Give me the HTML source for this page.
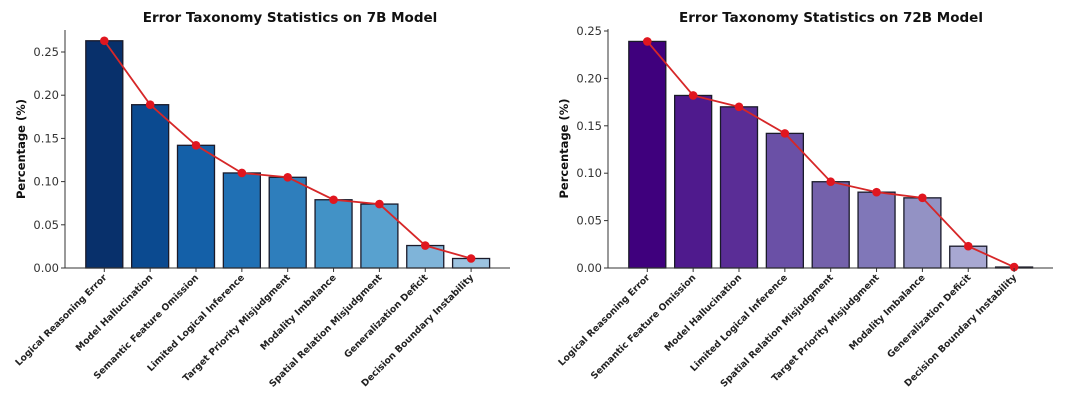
<!DOCTYPE html>
<html><head><meta charset="utf-8"><style>
body{margin:0;background:#fff;}
svg{display:block;font-family:"DejaVu Sans","Liberation Sans",sans-serif;}
</style></head><body>
<svg id="svg" width="1080" height="402" viewBox="0 0 1080 402"></svg>
<script>
const cats7 = ["Logical Reasoning Error","Model Hallucination","Semantic Feature Omission","Limited Logical Inference","Target Priority Misjudgment","Modality Imbalance","Spatial Relation Misjudgment","Generalization Deficit","Decision Boundary Instability"];
const vals7 = [0.263,0.189,0.142,0.110,0.105,0.079,0.074,0.026,0.011];
const cats72 = ["Logical Reasoning Error","Semantic Feature Omission","Model Hallucination","Limited Logical Inference","Spatial Relation Misjudgment","Target Priority Misjudgment","Modality Imbalance","Generalization Deficit","Decision Boundary Instability"];
const vals72 = [0.239,0.182,0.170,0.142,0.091,0.080,0.074,0.023,0.001];
const ticks7 = ["0.00","0.05","0.10","0.15","0.20","0.25"];
const ticks72 = ["0.00","0.05","0.10","0.15","0.20","0.25"];
const colors7 = ["#08306b","#0b4a90","#1460a8","#2070b4","#2e7ebc","#4292c6","#58a1cf","#7fb4d9","#9cc3e0"];
const colors72 = ["#3f007d","#4f1a8d","#5a2d96","#6a50a6","#7461ab","#8077b8","#9392c4","#a8a8d2","#bcbddc"];

const NS="http://www.w3.org/2000/svg";
const svg=document.getElementById('svg');
function mk(tag,attrs,parent){const e=document.createElementNS(NS,tag);for(const k in attrs)e.setAttribute(k,attrs[k]);(parent||svg).appendChild(e);return e;}

function chart(cfg){
  const g=mk('g',{});
  
  
  const y=v=>cfg.y0-(v/0.05)*cfg.per05;
  const x=i=>cfg.c0+i*cfg.step;
  const t=mk('text',{x:cfg.tx,y:22,'text-anchor':'middle','font-size':13.5,'font-weight':'bold',fill:'#111'},g);
  t.textContent=cfg.title;
  
  
  const yl=mk('text',{x:0,y:0,transform:`translate(${cfg.ax-40},${(cfg.y0+cfg.top)/2}) rotate(-90)`,'text-anchor':'middle','font-size':11.5,'font-weight':'bold',fill:'#111'},g);
  yl.textContent="Percentage (%)";
  
  
  cfg.ticks.forEach(s=>{
    const v=parseFloat(s),yy=y(v);
    mk('line',{x1:cfg.ax-4,x2:cfg.ax,y1:yy,y2:yy,stroke:'#333','stroke-width':1},g);
    const tt=mk('text',{x:cfg.ax-6,y:yy+4,'text-anchor':'end','font-size':11.5,fill:'#333'},g);
    tt.textContent=s;
    
    
  });
  cfg.vals.forEach((v,i)=>{
    const r=mk('rect',{x:x(i)-18.5,y:y(v),width:37,height:cfg.y0-y(v),fill:cfg.colors[i],stroke:'#1a1a2a','stroke-width':1.3},g);
    
    
  });
  mk('line',{x1:cfg.ax,x2:cfg.ax,y1:cfg.top,y2:cfg.y0,stroke:'#333','stroke-width':1},g);
  mk('line',{x1:cfg.ax,x2:cfg.axEnd,y1:cfg.y0,y2:cfg.y0,stroke:'#333','stroke-width':1},g);
  const pts=cfg.vals.map((v,i)=>x(i)+','+y(v)).join(' ');
  const pl=mk('polyline',{points:pts,fill:'none',stroke:'#d62728','stroke-width':1.8},g);
  
  
  cfg.vals.forEach((v,i)=>{
    const c=mk('circle',{cx:x(i),cy:y(v),r:4.3,fill:'#e0161f'},g);
    
    
  });
  cfg.cats.forEach((c,i)=>{
    mk('line',{x1:x(i),x2:x(i),y1:cfg.y0,y2:cfg.y0+4,stroke:'#333','stroke-width':1},g);
    const tx=mk('text',{x:0,y:0,transform:`translate(${x(i)+3},${cfg.y0+10}) rotate(-45)`,'text-anchor':'end','font-size':9.3,'font-weight':'bold',fill:'#222'},g);
    tx.textContent=c;
    
    
  });
}
chart({name:'chart-7b',title:'Error Taxonomy Statistics on 7B Model',tx:290,ax:65,axEnd:510,top:30,y0:268,per05:43.2,c0:104.3,step:45.85,vals:vals7,cats:cats7,ticks:ticks7,colors:colors7});
chart({name:'chart-72b',title:'Error Taxonomy Statistics on 72B Model',tx:831,ax:608,axEnd:1053,top:29,y0:268,per05:47.4,c0:647.3,step:45.85,vals:vals72,cats:cats72,ticks:ticks72,colors:colors72});
</script>
</body></html>
